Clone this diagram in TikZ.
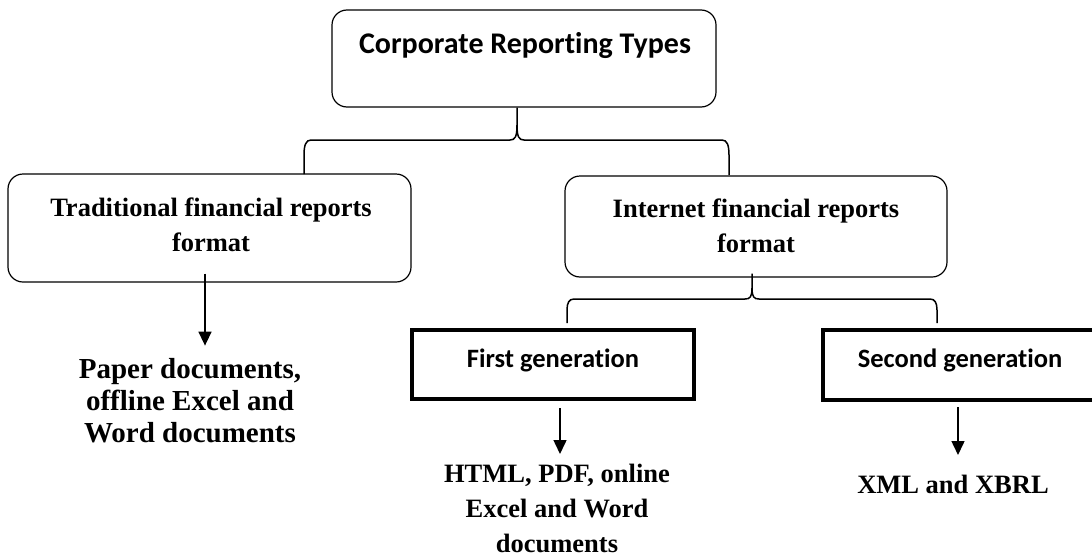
\documentclass[tikz,border=0pt]{standalone}
\usepackage{fontspec}
\setmainfont{Liberation Serif}
\newfontfamily\calfont[Ligatures=NoCommon]{Carlito}
\usetikzlibrary{arrows.meta}
\begin{document}
\begin{tikzpicture}[x=1pt,y=-1pt,
  rbox/.style={draw, rounded corners=15pt, line width=1.2pt, inner sep=0pt},
  gbox/.style={draw, line width=4pt, inner sep=0pt},
  serif/.style={font=\fontsize{26.5}{35}\selectfont\bfseries, align=center, inner sep=0pt},
  sans/.style={font=\calfont\fontsize{26.5}{32}\selectfont\bfseries, inner sep=0pt},
  brace/.style={line width=1.5pt},
  arr/.style={line width=1.5pt, -{Triangle[length=14pt,width=13pt]}}]
\useasboundingbox (0,0) rectangle (1092,557);
\clip (0,0) rectangle (1092,557);

% boxes
\node[rbox, minimum width=384pt, minimum height=97pt] (top) at (524,58.5) {};
\node[sans, anchor=base, font=\calfont\fontsize{30}{36}\selectfont\bfseries] (toptext) at (525,53) {Corporate Reporting Types};
\node[rbox, minimum width=403pt, minimum height=108pt] (trad) at (209.5,228) {};
\node[serif, anchor=base] (tradtext) at (211,251) {Traditional financial reports\\format};
\node[rbox, minimum width=382pt, minimum height=101pt] (inet) at (756,226.5) {};
\node[serif, anchor=base] (inettext) at (756,252) {Internet financial reports\\format};
\node[gbox, minimum width=282pt, minimum height=69pt] (first) at (553,364.5) {};
\node[sans, anchor=base] (firsttext) at (553,367) {First generation};
\node[gbox, minimum width=277pt, minimum height=70pt] (second) at (961.5,365) {};
\node[sans, anchor=base] (secondtext) at (960,367) {Second generation};

% result texts
\node[serif, anchor=base, font=\fontsize{29}{32}\selectfont\bfseries] (paper) at (190,442) {Paper documents,\\offline Excel and\\Word documents};
\node[serif, anchor=base] (html) at (557,552) {HTML, PDF, online\\Excel and Word\\documents};
\node[serif, anchor=base] (xml) at (953,493) {XML and XBRL};

% braces
\draw[brace] ([xshift=-7pt]top.south) -- (517,125)
  .. controls (517,137) and (515,140) .. (510,140) -- (311,140)
  .. controls (306,140) and (304,145) .. (304,155) -- (304,174);
\draw[brace] (517,125)
  .. controls (517,137) and (519,140) .. (524,140) -- (722,140)
  .. controls (727,140) and (729,145) .. (729,155) -- (729,175);
\draw[brace] ([shift={(-4,-4)}]inet.south) -- (752,288)
  .. controls (752,297) and (750,299) .. (745,299) -- (574,299)
  .. controls (569,299) and (567,303) .. (567,310) -- (567,323);
\draw[brace] (752,288)
  .. controls (752,297) and (754,299) .. (759,299) -- (930,299)
  .. controls (935,299) and (937,303) .. (937,310) -- (937,323);

% arrows
\draw[arr] ([shift={(-4.5,-9)}]trad.south) -- ([shift={(-4.5,63)}]trad.south);
\draw[arr] ([shift={(7,7)}]first.south) -- ([shift={(7,53)}]first.south);
\draw[arr] ([shift={(-3.5,5)}]second.south) -- ([shift={(-3.5,53)}]second.south);
\end{tikzpicture}
\end{document}
